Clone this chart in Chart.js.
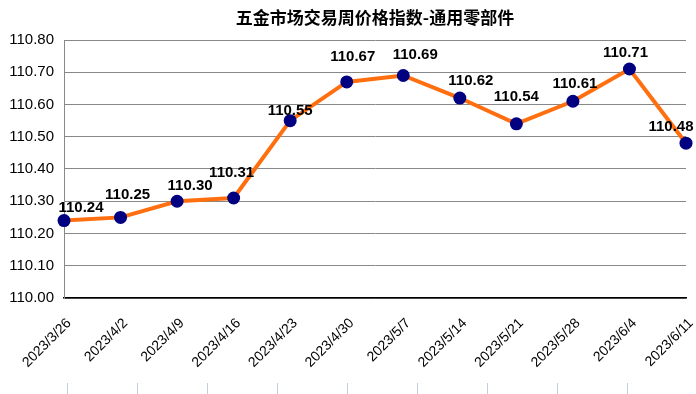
<!DOCTYPE html>
<html>
<head>
<meta charset="utf-8">
<script src="https://cdn.jsdelivr.net/npm/chart.js@4/dist/chart.umd.min.js"></script>
<style>
  html, body { margin: 0; padding: 0; background: #fff; }
  #wrap { width: 696px; height: 394px; }
</style>
</head>
<body>
<div id="wrap"><canvas id="myChart" width="696" height="394"></canvas></div>
<script>
const title = '五金市场交易周价格指数-通用零部件'
const weeks = [
  '2023/3/26', '2023/4/2', '2023/4/9', '2023/4/16', '2023/4/23', '2023/4/30',
  '2023/5/7', '2023/5/14', '2023/5/21', '2023/5/28', '2023/6/4', '2023/6/11'
]
const priceIndex = [
  110.24, 110.25, 110.30, 110.31, 110.55, 110.67,
  110.69, 110.62, 110.54, 110.61, 110.71, 110.48
]
const yMin = 110.0
const yMax = 110.8
const yStep = 0.1

// where each value label sits relative to its point (px)
const labelDx = [17, 7, 13, -2, 0, 6, 12, 11, 0, 2, -4, -15]
const labelDy = [-9, -18, -11, -21, -6, -21, -16, -13, -23, -13, -12, -12]

;(() => {
  'use strict'

  // value labels above the points
  const pointLabels = {
    id: 'pointLabels',
    afterDatasetsDraw (chart) {
      const ctx = chart.ctx
      const meta = chart.getDatasetMeta(0)
      ctx.save()
      ctx.font = 'bold 15px "Liberation Sans", Arial, sans-serif'
      ctx.fillStyle = '#000'
      ctx.textAlign = 'center'
      ctx.textBaseline = 'alphabetic'
      meta.data.forEach((pt, i) => {
        ctx.fillText(priceIndex[i].toFixed(2), pt.x + labelDx[i], pt.y + labelDy[i])
      })
      ctx.restore()
    }
  }

  // faint marks along the bottom edge of the picture
  const bottomMarks = {
    id: 'bottomMarks',
    afterDraw (chart) {
      const ctx = chart.ctx
      ctx.save()
      ctx.strokeStyle = '#c5cde0'
      ctx.lineWidth = 1
      for (let i = 0; i < 9; i++) {
        const x = 67.5 + i * 70
        ctx.beginPath()
        ctx.moveTo(x, 383)
        ctx.lineTo(x, chart.height)
        ctx.stroke()
      }
      ctx.restore()
    }
  }

  const ctx = document.getElementById('myChart')
  // eslint-disable-next-line no-unused-vars
  const myChart = new Chart(ctx, {
    type: 'line',
    data: {
      labels: weeks,
      datasets: [{
        data: priceIndex,
        tension: 0,
        borderColor: '#ff6f10',
        borderWidth: 4,
        pointRadius: 6.5,
        pointHoverRadius: 6.5,
        pointBackgroundColor: '#000080',
        pointBorderColor: '#000080',
        pointBorderWidth: 0,
        clip: false
      }]
    },
    options: {
      responsive: false,
      animation: false,
      layout: { padding: { left: 0, right: 10, top: 0, bottom: 0 } },
      plugins: {
        legend: { display: false },
        tooltip: { enabled: false },
        title: {
          display: true,
          fullSize: false,
          text: title,
          color: '#000',
          font: { family: '"Noto Sans CJK SC", sans-serif', size: 17, weight: 'bold' },
          padding: { top: 7, bottom: 12.6 }
        }
      },
      scales: {
        x: {
          offset: false,
          grid: { display: false, drawTicks: false },
          border: { color: '#000', width: 1.5 },
          ticks: {
            color: '#000',
            maxRotation: 45,
            minRotation: 45,
            autoSkip: false,
            padding: 17,
            labelOffset: 5,
            font: { family: '"Liberation Sans", Arial, sans-serif', size: 14 }
          },
          afterFit (scale) {
            scale.height = 96
            scale.paddingLeft = 0
            scale.paddingRight = 0
          }
        },
        y: {
          min: yMin,
          max: yMax,
          grid: { color: '#888', drawTicks: false, lineWidth: 1 },
          border: { color: '#888' },
          ticks: {
            stepSize: yStep,
            color: '#000',
            padding: 10,
            font: { family: '"Liberation Sans", Arial, sans-serif', size: 15 },
            callback: (v) => Number(v).toFixed(2)
          },
          afterFit (scale) { scale.width = 64 }
        }
      }
    },
    plugins: [pointLabels, bottomMarks]
  })
})()
</script>
</body>
</html>
